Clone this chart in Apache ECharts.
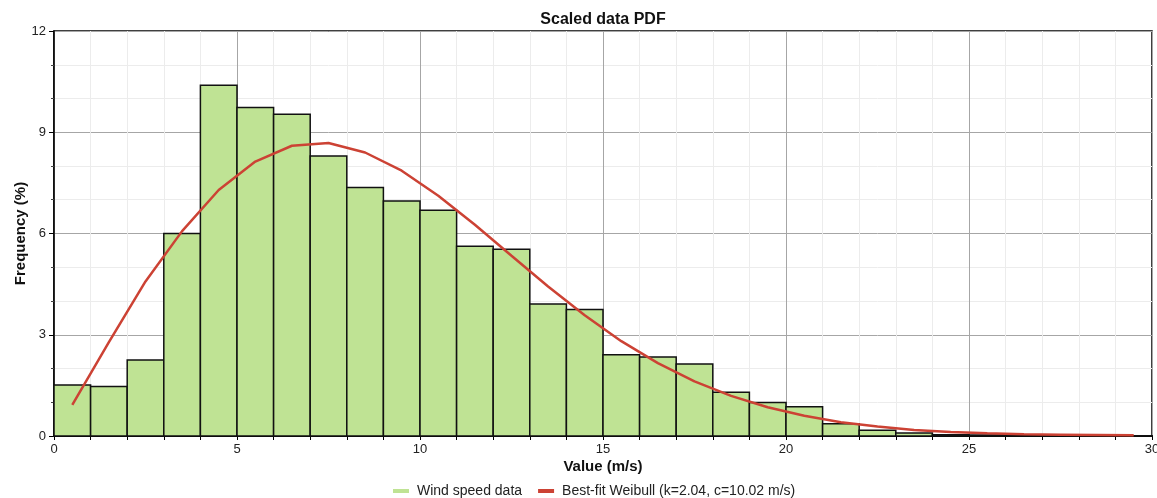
<!DOCTYPE html>
<html>
<head>
<meta charset="utf-8">
<script src="https://cdn.jsdelivr.net/npm/echarts@6/dist/echarts.min.js"></script>
<style>
  html, body { margin: 0; padding: 0; background: #fff; }
  #chart { width: 1157px; height: 498px; }
</style>
</head>
<body>
<div id="chart"></div>
<script>
// histogram bins (left edge, 1 m/s wide) and frequency in %
var binLeft = [0, 1, 2, 3, 4, 5, 6, 7, 8, 9, 10, 11, 12, 13, 14, 15, 16, 17, 18, 19, 20, 21, 22, 23, 24, 25, 26, 27, 28, 29];
var freq = [1.51, 1.47, 2.25, 6.0, 10.39, 9.73, 9.53, 8.30, 7.36, 6.96, 6.69, 5.62, 5.53, 3.91, 3.75, 2.41, 2.34, 2.13, 1.30, 0.99, 0.87, 0.36, 0.17, 0.09, 0.04, 0.03, 0.03, 0.02, 0.02, 0.01];
// fitted weibull curve read at bin midpoints
var fitX = [0.5, 1.5, 2.5, 3.5, 4.5, 5.5, 6.5, 7.5, 8.5, 9.5, 10.5, 11.5, 12.5, 13.5, 14.5, 15.5, 16.5, 17.5, 18.5, 19.5, 20.5, 21.5, 22.5, 23.5, 24.5, 25.5, 26.5, 27.5, 28.5, 29.5];
var fitY = [0.92, 2.78, 4.58, 6.07, 7.29, 8.13, 8.60, 8.68, 8.40, 7.86, 7.12, 6.26, 5.34, 4.43, 3.58, 2.81, 2.16, 1.62, 1.19, 0.85, 0.60, 0.41, 0.28, 0.18, 0.12, 0.08, 0.05, 0.04, 0.03, 0.02];

var font = 'Liberation Sans, Arial, sans-serif';

var chart = echarts.init(document.getElementById('chart'));

var barData = binLeft.map(function (x, i) { return [x, x + 1, freq[i]]; });
var lineData = fitX.map(function (x, i) { return [x, fitY[i]]; });

var option = {
  animation: false,
  textStyle: { fontFamily: font },
  title: {
    text: 'Scaled data PDF',
    left: 603,
    textAlign: 'center',
    top: 12,
    padding: 0,
    textStyle: { fontSize: 16, fontWeight: 'bold', color: '#111', fontFamily: font }
  },
  legend: {
    top: 484,
    left: 393,
    padding: 0,
    itemWidth: 16,
    itemHeight: 4,
    itemGap: 16,
    textStyle: { fontSize: 14, color: '#222', fontFamily: font, padding: [0, 0, 0, 3] },
    data: [
      { name: 'Wind speed data', icon: 'rect', itemStyle: { color: '#bfe394', borderWidth: 0 } },
      { name: 'Best-fit Weibull (k=2.04, c=10.02 m/s)', icon: 'rect', itemStyle: { color: '#cc4234' } }
    ]
  },
  grid: {
    left: 54,
    right: 5,
    top: 31,
    bottom: 62,
    outerBoundsMode: 'none',
    containLabel: false,
    show: true,
    borderColor: '#000',
    borderWidth: 1.5
  },
  xAxis: {
    type: 'value',
    min: 0,
    max: 30,
    interval: 5,
    name: 'Value (m/s)',
    nameLocation: 'middle',
    nameGap: 23,
    nameMoveOverlap: false,
    nameTextStyle: { fontSize: 15, fontWeight: 'bold', color: '#111', fontFamily: font },
    axisLine: { show: true, onZero: false, lineStyle: { color: '#000', width: 2 } },
    axisTick: { show: true, length: 4, lineStyle: { color: '#000' } },
    minorTick: { show: true, splitNumber: 5, length: 4, lineStyle: { color: '#000' } },
    axisLabel: { fontSize: 13, color: '#222', margin: 7 },
    splitLine: { show: true, lineStyle: { color: '#a6a6a6', width: 1 } },
    minorSplitLine: { show: true, lineStyle: { color: '#ececec', width: 1 } }
  },
  yAxis: {
    type: 'value',
    min: 0,
    max: 12,
    interval: 3,
    name: 'Frequency (%)',
    nameLocation: 'middle',
    nameGap: 26,
    nameMoveOverlap: false,
    nameTextStyle: { fontSize: 15, fontWeight: 'bold', color: '#111', fontFamily: font },
    axisLine: { show: true, lineStyle: { color: '#000', width: 1.5 } },
    axisTick: { show: true, length: 5, lineStyle: { color: '#000' } },
    minorTick: { show: true, splitNumber: 3, length: 3, lineStyle: { color: '#444' } },
    axisLabel: { fontSize: 13, color: '#222', margin: 8 },
    splitLine: { show: true, lineStyle: { color: '#a6a6a6', width: 1 } },
    minorSplitLine: { show: true, lineStyle: { color: '#ececec', width: 1 } }
  },
  series: [
    {
      name: 'Wind speed data',
      type: 'custom',
      data: barData,
      encode: { x: [0, 1], y: 2 },
      renderItem: function (params, api) {
        var p0 = api.coord([api.value(0), api.value(2)]);
        var p1 = api.coord([api.value(1), 0]);
        return {
          type: 'rect',
          shape: { x: p0[0], y: p0[1], width: p1[0] - p0[0], height: p1[1] - p0[1] },
          style: { fill: '#bfe394', stroke: '#111', lineWidth: 1.5 }
        };
      },
      z: 2
    },
    {
      name: 'Best-fit Weibull (k=2.04, c=10.02 m/s)',
      type: 'line',
      data: lineData,
      showSymbol: false,
      symbol: 'none',
      lineStyle: { color: '#cc4234', width: 2.5 },
      itemStyle: { color: '#cc4234' },
      z: 3
    }
  ]
};

chart.setOption(option);
</script>
</body>
</html>
